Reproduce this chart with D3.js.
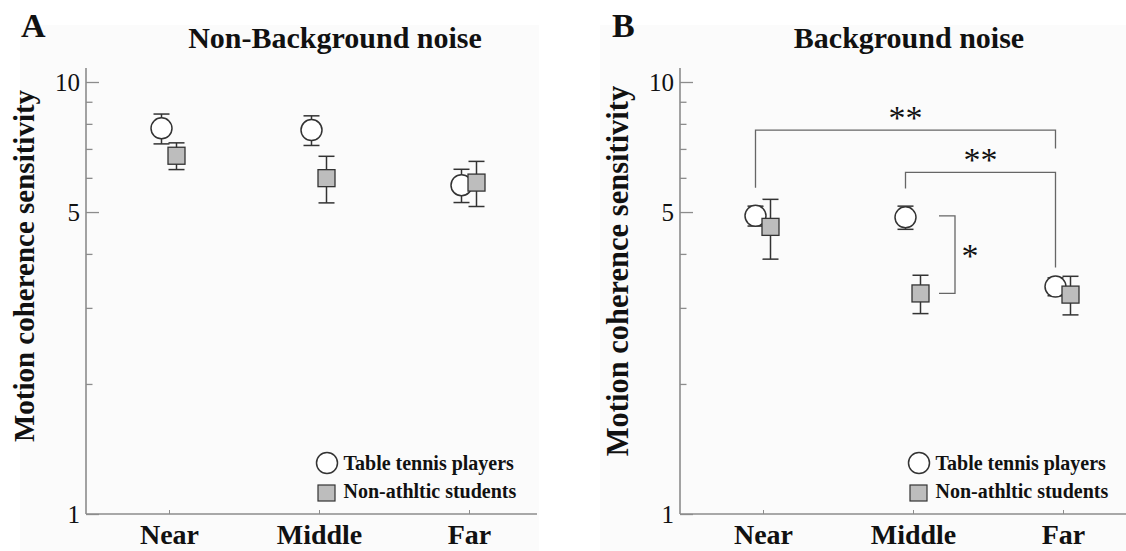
<!DOCTYPE html>
<html>
<head>
<meta charset="utf-8">
<script src="https://cdn.jsdelivr.net/npm/d3@7"></script>
<style>
  html, body { margin: 0; padding: 0; background: #ffffff; }
  svg { display: block; }
  text { font-family: "Liberation Serif", "Times New Roman", serif; fill: #111; }
</style>
</head>
<body>
<svg id="chart" width="1126" height="551"></svg>
<script>
// Distance conditions on the x axis
const categories = ["Near", "Middle", "Far"];

// Y axis ticks (log scale); only these get a label
const yTicks = [1, 2, 3, 4, 5, 6, 7, 8, 9, 10];
const yLabelled = [1, 5, 10];

// Panel A: no background noise — mean sensitivity and standard error
const playersNoBg = [7.81, 7.74, 5.77];
const playersNoBgSE = [0.62, 0.61, 0.51];
const studentsNoBg = [6.75, 5.99, 5.85];
const studentsNoBgSE = [0.48, 0.74, 0.70];

// Panel B: background noise — mean sensitivity and standard error
const playersBg = [4.90, 4.86, 3.36];
const playersBgSE = [0.26, 0.30, 0.16];
const studentsBg = [4.62, 3.24, 3.22];
const studentsBgSE = [0.73, 0.33, 0.33];

const legendLabels = ["Table tennis players", "Non-athltic students"];
const panelTitles = ["Non-Background noise", "Background noise"];
const panelLetters = ["A", "B"];

// Significance brackets for panel B (values on the y scale)
const bgBrackets = [
  { from: "Near", to: "Far", level: 7.74, leftEnd: 5.69, rightEnd: 7.02, mark: "**" },
  { from: "Middle", to: "Far", level: 6.18, leftEnd: 5.67, rightEnd: 3.72, mark: "**" }
];
const bgPairBracket = { at: "Middle", top: 4.90, bottom: 3.24, mark: "*" };

const svg = d3.select("#chart");

const AXIS = "#8c8c8c";
const INK = "#333333";
const FILL = "#bdbdbd";

const panels = [
  {
    x0: 86, title: panelTitles[0], titleX: 335, letter: panelLetters[0], letterX: 21,
    yTitleX: 24, yTitleY: 266, yTitleSize: 29, legendX: 327,
    players: playersNoBg, playersSE: playersNoBgSE,
    students: studentsNoBg, studentsSE: studentsNoBgSE,
    bgX: 20, bgW: 519
  },
  {
    x0: 680, title: panelTitles[1], titleX: 909, letter: panelLetters[1], letterX: 612,
    yTitleX: 618, yTitleY: 271, yTitleSize: 30.5, legendX: 919,
    players: playersBg, playersSE: playersBgSE,
    students: studentsBg, studentsSE: studentsBgSE,
    bgX: 600, bgW: 526
  }
];

const yTop = 68, yBottom = 514;
const axisLen = 451;
const y = d3.scaleLog().domain([1, 10]).range([514, 82]);

panels.forEach((p, pi) => {
  const g = svg.append("g");

  // faint panel backdrop
  g.append("rect").attr("x", p.bgX).attr("y", 25).attr("width", p.bgW).attr("height", 526)
    .attr("fill", "#fbfbfb");

  const x = d3.scalePoint().domain(categories).range([p.x0 + 83, p.x0 + 383]);
  const off = 7.5;

  // y axis
  const yAxis = d3.axisLeft(y)
    .tickValues(yTicks)
    .tickSizeInner(-13)
    .tickSizeOuter(0)
    .tickPadding(6)
    .tickFormat(d => yLabelled.includes(d) ? d3.format("d")(d) : "");
  const ya = g.append("g").attr("transform", `translate(${p.x0},0)`).call(yAxis);
  ya.select(".domain").remove();
  ya.selectAll(".tick line")
    .attr("stroke", AXIS).attr("stroke-width", 1.3)
    .attr("x2", d => yLabelled.includes(d) ? 13 : 6.5);
  ya.selectAll(".tick text")
    .attr("fill", "#111").style("font-size", "25px").attr("dy", "0.34em")
    .style("font-family", "'Liberation Serif', 'Times New Roman', serif");
  g.append("line").attr("x1", p.x0).attr("x2", p.x0).attr("y1", yTop).attr("y2", yBottom)
    .attr("stroke", AXIS).attr("stroke-width", 1.6);

  // x axis
  const xAxis = d3.axisBottom(x).tickSizeInner(-4).tickSizeOuter(0).tickPadding(0);
  const xa = g.append("g").attr("transform", `translate(0,${yBottom})`).call(xAxis);
  xa.select(".domain").remove();
  xa.selectAll(".tick line").attr("stroke", AXIS).attr("stroke-width", 1);
  xa.selectAll(".tick text")
    .attr("y", 30).attr("dy", 0)
    .attr("fill", "#111").style("font-size", "28px").style("font-weight", "bold")
    .style("font-family", "'Liberation Serif', 'Times New Roman', serif");
  g.append("line").attr("x1", p.x0).attr("x2", p.x0 + axisLen).attr("y1", yBottom).attr("y2", yBottom)
    .attr("stroke", AXIS).attr("stroke-width", 1.6);

  // y axis title
  g.append("text")
    .attr("transform", `translate(${p.yTitleX},${p.yTitleY}) rotate(-90)`)
    .attr("text-anchor", "middle").attr("dominant-baseline", "central")
    .style("font-size", p.yTitleSize + "px").style("font-weight", "bold")
    .text("Motion coherence sensitivity");

  // panel title and letter
  g.append("text").attr("x", p.titleX).attr("y", 48).attr("text-anchor", "middle")
    .style("font-size", "30px").style("font-weight", "bold").text(p.title);
  g.append("text").attr("x", p.letterX).attr("y", 37)
    .style("font-size", "34px").style("font-weight", "bold").text(p.letter);

  const capW = 8;
  function errorBars(vals, se, dx) {
    const eb = g.append("g").attr("stroke", INK).attr("stroke-width", 1.5).attr("fill", "none");
    categories.forEach((c, i) => {
      const cx = x(c) + dx;
      const hi = y(vals[i] + se[i]), lo = y(vals[i] - se[i]);
      eb.append("line").attr("x1", cx).attr("x2", cx).attr("y1", hi).attr("y2", lo);
      eb.append("line").attr("x1", cx - capW).attr("x2", cx + capW).attr("y1", hi).attr("y2", hi);
      eb.append("line").attr("x1", cx - capW).attr("x2", cx + capW).attr("y1", lo).attr("y2", lo);
    });
  }

  // players: open circles
  errorBars(p.players, p.playersSE, -off);
  g.append("g").selectAll("circle").data(p.players).join("circle")
    .attr("cx", (d, i) => x(categories[i]) - off)
    .attr("cy", d => y(d))
    .attr("r", 10.5)
    .attr("fill", "#ffffff").attr("stroke", INK).attr("stroke-width", 1.5);

  // students: grey squares
  errorBars(p.students, p.studentsSE, off);
  g.append("g").selectAll("rect").data(p.students).join("rect")
    .attr("x", (d, i) => x(categories[i]) + off - 8.5)
    .attr("y", d => y(d) - 8.5)
    .attr("width", 17).attr("height", 17)
    .attr("fill", FILL).attr("stroke", INK).attr("stroke-width", 1.3);

  // legend
  const lg = g.append("g");
  lg.append("circle").attr("cx", p.legendX).attr("cy", 463).attr("r", 10.5)
    .attr("fill", "#fff").attr("stroke", INK).attr("stroke-width", 1.5);
  lg.append("rect").attr("x", p.legendX - 9).attr("y", 485).attr("width", 17).attr("height", 16)
    .attr("fill", FILL).attr("stroke", INK).attr("stroke-width", 1.2);
  lg.selectAll("text").data(legendLabels).join("text")
    .attr("x", p.legendX + 16.5)
    .attr("y", (d, i) => 469.5 + i * 28)
    .style("font-size", "20px").style("font-weight", "bold")
    .text(d => d);

  // significance brackets (panel B only)
  if (pi === 1) {
    const bk = g.append("g").attr("stroke", "#666").attr("stroke-width", 1.3).attr("fill", "none");
    bgBrackets.forEach(b => {
      const xl = x(b.from) - off, xr = x(b.to) - off, yl = y(b.level);
      bk.append("path").attr("d",
        `M${xl},${y(b.leftEnd)}V${yl}H${xr}V${y(b.rightEnd)}`);
      g.append("text").attr("x", (xl + xr) / 2).attr("y", yl - 1)
        .attr("text-anchor", "middle").style("font-size", "34px").text(b.mark);
    });
    const bx = x(bgPairBracket.at) + 42;
    bk.append("path").attr("d",
      `M${bx - 16},${y(bgPairBracket.top)}H${bx}V${y(bgPairBracket.bottom)}H${bx - 16}`);
    g.append("text").attr("x", bx + 15)
      .attr("y", (y(bgPairBracket.top) + y(bgPairBracket.bottom)) / 2 + 12)
      .attr("text-anchor", "middle").style("font-size", "34px").text(bgPairBracket.mark);
  }
});
</script>
</body>
</html>
